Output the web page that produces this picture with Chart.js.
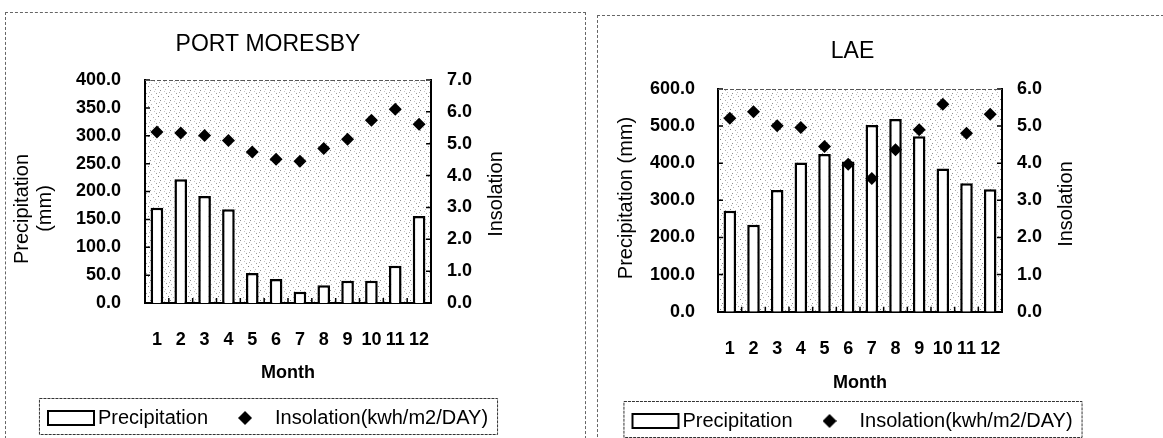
<!DOCTYPE html>
<html>
<head>
<meta charset="utf-8">
<script src="https://cdn.jsdelivr.net/npm/chart.js@4.4.1/dist/chart.umd.min.js"></script>
<style>
  body { margin: 0; width: 1163px; height: 438px; overflow: hidden; background: #fff; position: relative; }
  .panel { position: absolute; border: 1px dashed #666; }
  #panelPM { left: 5px; top: 12px; width: 579px; height: 440px; }
  #panelLAE { left: 597px; top: 15px; width: 580px; height: 440px; }
  canvas { position: absolute; }
  #chartPM { left: 5px; top: 12px; }
  #chartLAE { left: 597px; top: 15px; }
</style>
</head>
<body>
<div class="panel" id="panelPM"></div>
<div class="panel" id="panelLAE"></div>
<canvas id="chartPM" width="526" height="426"></canvas>
<canvas id="chartLAE" width="511" height="426"></canvas>
<script>
// months on the x axis
const months = ['1', '2', '3', '4', '5', '6', '7', '8', '9', '10', '11', '12'];

// Port Moresby (mm, kwh/m2/day)
const pmPrecip = [171, 222, 192, 168, 54, 43, 20, 32, 40, 40, 67, 156];
const pmInsol = [5.37, 5.34, 5.26, 5.1, 4.74, 4.51, 4.45, 4.85, 5.14, 5.74, 6.08, 5.61];

// Lae (mm, kwh/m2/day)
const laePrecip = [272, 234, 328, 402, 425, 405, 503, 519, 473, 386, 346, 330];
const laeInsol = [5.21, 5.39, 5.01, 4.96, 4.45, 3.97, 3.59, 4.36, 4.9, 5.59, 4.81, 5.32];

const precipLabel = 'Precipitation';
const insolLabel = 'Insolation(kwh/m2/DAY)';

const sans = "'Liberation Sans', Arial, sans-serif";

// dotted grey fill of the plot area (fixed tile, like the scanned stipple)
const makeStipple = () => {
    const tile = document.createElement('canvas');
    tile.width = 10;
    tile.height = 10;
    const c = tile.getContext('2d');
    c.fillStyle = '#ffffff';
    c.fillRect(0, 0, 10, 10);
    const dots = [[1, 1, '#9a9a9a'], [6, 2, '#bbbbbb'], [3, 4, '#777777'], [8, 5, '#aaaaaa'],
                  [0, 7, '#bdbdbd'], [5, 8, '#8c8c8c'], [9, 9, '#c4c4c4'], [4, 0, '#b0b0b0']];
    dots.forEach(([x, y, col]) => { c.fillStyle = col; c.fillRect(x, y, 1, 1); });
    return tile;
};

// legend symbols as small images (centre of image = centre of legend box)
const makeBarSymbol = () => {
    const cv = document.createElement('canvas');
    cv.width = 92;
    cv.height = 18;
    const c = cv.getContext('2d');
    c.fillStyle = '#fff';
    c.strokeStyle = '#000';
    c.lineWidth = 2;
    c.fillRect(26, 2, 46, 14);
    c.strokeRect(26, 2, 46, 14);
    return cv;
};

const makeDiamondSymbol = () => {
    const cv = document.createElement('canvas');
    cv.width = 14;
    cv.height = 14;
    const c = cv.getContext('2d');
    c.fillStyle = '#000';
    c.beginPath();
    c.moveTo(7, 0);
    c.lineTo(14, 7);
    c.lineTo(7, 14);
    c.lineTo(0, 7);
    c.closePath();
    c.fill();
    return cv;
};

const barSymbol = makeBarSymbol();
const diamondSymbol = makeDiamondSymbol();

const plotBackground = {
    id: 'plotBackground',
    beforeDraw(chart) {
        const {ctx, chartArea: a} = chart;
        ctx.save();
        ctx.fillStyle = ctx.createPattern(makeStipple(), 'repeat');
        ctx.fillRect(a.left, a.top, a.right - a.left, a.bottom - a.top);
        ctx.restore();
    }
};

// short inward tick marks + dashed top edge + box round the legend
const frameExtras = {
    id: 'frameExtras',
    afterDraw(chart) {
        const {ctx, chartArea: a, scales} = chart;
        ctx.save();
        ctx.strokeStyle = '#000';
        ctx.lineWidth = 1.5;
        ctx.beginPath();
        scales.y.ticks.forEach(t => {
            const py = scales.y.getPixelForValue(t.value);
            ctx.moveTo(a.left, py);
            ctx.lineTo(a.left + 5, py);
        });
        scales.y1.ticks.forEach(t => {
            const py = scales.y1.getPixelForValue(t.value);
            ctx.moveTo(a.right, py);
            ctx.lineTo(a.right - 5, py);
        });
        for (let i = 0; i <= months.length; i++) {
            const px = scales.x.getPixelForValue(i - 0.5);
            ctx.moveTo(px, a.bottom);
            ctx.lineTo(px, a.bottom - 5);
        }
        ctx.stroke();

        // dashed top of the plot frame
        ctx.strokeStyle = '#555';
        ctx.lineWidth = 1;
        ctx.setLineDash([4, 2]);
        ctx.beginPath();
        ctx.moveTo(a.left, a.top + 0.5);
        ctx.lineTo(a.right, a.top + 0.5);
        ctx.stroke();

        // legend box
        const boxes = chart.legend.legendHitBoxes;
        if (boxes && boxes.length) {
            const first = boxes[0];
            const last = boxes[boxes.length - 1];
            const left = first.left - 9;
            const right = last.left + last.width + 9;
            ctx.setLineDash([3, 1]);
            ctx.strokeStyle = '#333';
            ctx.strokeRect(left + 0.5, chart.legend.top + 7.5, right - left, 36);
        }
        ctx.restore();
    }
};

// vertical axis titles, all read bottom-to-top like the original
const sideTitles = {
    id: 'sideTitles',
    afterDraw(chart, args, opts) {
        const {ctx} = chart;
        ctx.save();
        ctx.fillStyle = '#000';
        ctx.font = '20px ' + sans;
        ctx.textAlign = 'center';
        ctx.textBaseline = 'middle';
        opts.items.forEach(item => {
            ctx.save();
            ctx.translate(item.x, item.y);
            ctx.rotate(-Math.PI / 2);
            ctx.fillText(item.text, 0, 0);
            ctx.restore();
        });
        ctx.restore();
    }
};

const tickFont = { family: sans, size: 18, weight: 'bold' };

const makeChart = (id, title, precip, insol, lay) => {
    const ctx = document.getElementById(id);

    new Chart(ctx, {
        type: 'bar',
        data: {
            labels: months,
            datasets: [{
                label: precipLabel,
                data: precip,
                yAxisID: 'y',
                backgroundColor: '#ffffff',
                borderColor: '#000000',
                borderWidth: 2.5,
                barPercentage: 0.53,
                categoryPercentage: 1.0,
                order: 2
            }, {
                type: 'line',
                label: insolLabel,
                data: insol,
                yAxisID: 'y1',
                showLine: false,
                pointStyle: 'rectRot',
                pointRadius: 6.5,
                pointBorderWidth: 0,
                backgroundColor: '#000000',
                borderColor: '#000000',
                order: 1
            }]
        },
        options: {
            responsive: false,
            animation: false,
            layout: { padding: 0 },
            plugins: {
                title: {
                    display: true,
                    text: title,
                    color: '#000',
                    font: { family: sans, size: 23, weight: 'normal' },
                    padding: { top: lay.titleTop, bottom: lay.titleBottom }
                },
                legend: {
                    position: 'bottom',
                    labels: {
                        color: '#000',
                        font: { family: sans, size: 20 },
                        usePointStyle: true,
                        pointStyleWidth: 40,
                        boxHeight: 16,
                        padding: 17,
                        generateLabels: () => [
                            { text: precipLabel, pointStyle: barSymbol, fontColor: '#000', datasetIndex: 0 },
                            { text: insolLabel, pointStyle: diamondSymbol, fontColor: '#000', datasetIndex: 1 }
                        ]
                    }
                },
                tooltip: { enabled: false },
                sideTitles: { items: lay.sideTitles }
            },
            scales: {
                x: {
                    grid: { display: false, drawTicks: false },
                    border: { display: true, color: '#000', width: 2 },
                    ticks: {
                        color: '#000',
                        font: tickFont,
                        padding: lay.xTickPad,
                        autoSkip: false,
                        maxRotation: 0
                    },
                    title: {
                        display: true,
                        text: 'Month',
                        color: '#000',
                        font: { family: sans, size: 18, weight: 'bold' },
                        padding: { top: 0, bottom: lay.monthPad }
                    },
                    afterFit: (scale) => { scale.height = lay.xHeight; }
                },
                y: {
                    position: 'left',
                    min: 0,
                    max: lay.yMax,
                    grid: { display: false, drawTicks: false },
                    border: { display: true, color: '#000', width: 2 },
                    ticks: {
                        stepSize: lay.yStep,
                        autoSkip: false,
                        color: '#000',
                        font: tickFont,
                        padding: lay.yTickPad,
                        callback: (v) => v.toFixed(1)
                    },
                    afterFit: (scale) => { scale.width = lay.yWidth; }
                },
                y1: {
                    position: 'right',
                    min: 0,
                    max: lay.y1Max,
                    grid: { display: false, drawTicks: false },
                    border: { display: true, color: '#000', width: 2 },
                    ticks: {
                        stepSize: 1,
                        autoSkip: false,
                        color: '#000',
                        font: tickFont,
                        padding: lay.y1TickPad,
                        callback: (v) => v.toFixed(1)
                    },
                    afterFit: (scale) => { scale.width = lay.y1Width; }
                }
            }
        },
        plugins: [plotBackground, frameExtras, sideTitles]
    });
};

// Port Moresby panel
makeChart('chartPM', 'PORT MORESBY', pmPrecip, pmInsol, {
    titleTop: 19, titleBottom: 21.4,
    xHeight: 88, xTickPad: 26, monthPad: 7.2,
    yMax: 400, yStep: 50, yWidth: 140, yTickPad: 24,
    y1Max: 7, y1Width: 100, y1TickPad: 16,
    sideTitles: [
        { text: 'Precipitation', x: 17.5, y: 197 },
        { text: '(mm)', x: 40, y: 196.5 },
        { text: 'Insolation', x: 491, y: 182 }
    ]
});

// Lae panel
makeChart('chartLAE', 'LAE', laePrecip, laeInsol, {
    titleTop: 23.2, titleBottom: 23.2,
    xHeight: 82.3, xTickPad: 27, monthPad: 0.2,
    yMax: 600, yStep: 100, yWidth: 121, yTickPad: 23,
    y1Max: 6, y1Width: 106, y1TickPad: 15,
    sideTitles: [
        { text: 'Precipitation (mm)', x: 29.5, y: 183 },
        { text: 'Insolation', x: 469.5, y: 189 }
    ]
});
</script>
</body>
</html>
